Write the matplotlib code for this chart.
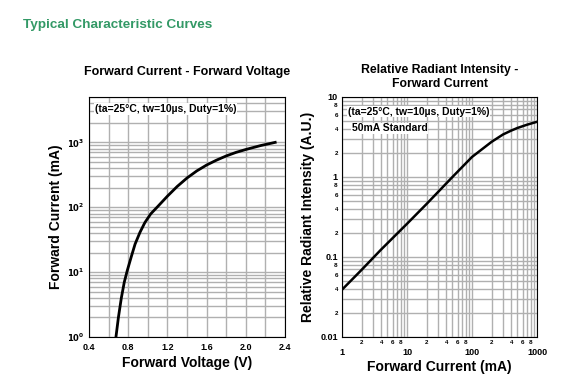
import matplotlib
matplotlib.use("Agg")
import matplotlib.pyplot as plt
import numpy as np
from matplotlib.ticker import FixedLocator, NullFormatter, LogLocator

# ---- data ----
vf_voltage = [0.675, 0.70, 0.73, 0.76, 0.79, 0.83, 0.87, 0.92, 0.97, 1.03, 1.10, 1.20,
              1.30, 1.40, 1.50, 1.60, 1.70, 1.80, 1.90, 2.00, 2.15, 2.30]
vf_current = [1, 2, 4, 7, 10.5, 17, 27, 41, 58, 79, 102, 148,
              209, 282, 363, 447, 531, 617, 700, 776, 891, 1000]

ri_current = [1, 2, 4, 10, 20, 50, 100, 200, 300, 400, 500, 700, 1000]
ri_intensity = [0.039, 0.069, 0.124, 0.26, 0.46, 1.0, 1.78, 2.75, 3.4, 3.8, 4.1, 4.5, 4.9]

left_xticks = [0.4, 0.8, 1.2, 1.6, 2.0, 2.4]
left_xlabels = ["0.4", "0.8", "1.2", "1.6", "2.0", "2.4"]
left_yticks = [1, 10, 100, 1000]
left_ylabels = ["$\\mathbf{10^0}$", "$\\mathbf{10^1}$", "$\\mathbf{10^2}$", "$\\mathbf{10^3}$"]

right_xmajor = [1, 10, 100, 1000]
right_xmajor_labels = ["1", "10", "100", "1000"]
right_xminor = [2, 4, 6, 8, 20, 40, 60, 80, 200, 400, 600, 800]
right_xminor_labels = ["2", "4", "6", "8", "2", "4", "6", "8", "2", "4", "6", "8"]
right_ymajor = [0.01, 0.1, 1, 10]
right_ymajor_labels = ["0.01", "0.1", "1", "10"]
right_yminor = [0.02, 0.04, 0.06, 0.08, 0.2, 0.4, 0.6, 0.8, 2, 4, 6, 8]
right_yminor_labels = ["2", "4", "6", "8", "2", "4", "6", "8", "2", "4", "6", "8"]

note = "(ta=25°C, tw=10µs, Duty=1%)"

plt.rcParams['font.family'] = ['Liberation Sans', 'DejaVu Sans']

fig = plt.figure(figsize=(5.87, 3.9), dpi=100)
W, H = 587, 390

def axrect(x0, y0, x1, y1):
    return [x0 / W, 1 - y1 / H, (x1 - x0) / W, (y1 - y0) / H]

fig.text(23 / W, 1 - 25 / H, "Typical Characteristic Curves", color="#339966",
         fontsize=9.7, fontweight="bold", va="center", ha="left")

gridc = "#b0b0b0"

# ---- left ----
ax1 = fig.add_axes(axrect(89, 97, 285, 337))
ax1.set_yscale("log")
ax1.set_xlim(0.4, 2.4)
ax1.set_ylim(1, 5000)
ax1.plot(vf_voltage, vf_current, color="black", lw=2, zorder=3)
ax1.set_xticks(left_xticks)
ax1.set_xticklabels(left_xlabels, fontsize=6.5, fontweight="bold")
ax1.xaxis.set_minor_locator(FixedLocator(np.arange(0.6, 2.4, 0.4)))
ax1.set_yticks(left_yticks)
ax1.set_yticklabels(left_ylabels, fontsize=6)
ax1.yaxis.set_minor_locator(LogLocator(base=10, subs=np.arange(2, 10)))
ax1.yaxis.set_minor_formatter(NullFormatter())
ax1.tick_params(which="both", length=0)
ax1.tick_params(axis="x", pad=4)
ax1.tick_params(axis="y", pad=3)
ax1.grid(True, which="both", color=gridc, lw=1)
ax1.set_axisbelow(True)
ax1.set_xlabel("Forward Voltage (V)", fontsize=10, fontweight="bold", labelpad=3)
ax1.set_ylabel("Forward Current (mA)", fontsize=10, fontweight="bold", labelpad=3)
ax1.set_title("Forward Current - Forward Voltage", fontsize=9, fontweight="bold", pad=16)
ax1.text(0.03, 0.97, note, transform=ax1.transAxes, fontsize=7.5, fontweight="bold",
         va="top", ha="left", bbox=dict(facecolor="white", edgecolor="none", pad=0.5), zorder=4)

# ---- right ----
ax2 = fig.add_axes(axrect(342, 97, 537, 337))
ax2.set_xscale("log")
ax2.set_yscale("log")
ax2.set_xlim(1, 1000)
ax2.set_ylim(0.01, 10)
ax2.plot(ri_current, ri_intensity, color="black", lw=1.8, zorder=3)
ax2.set_xticks(right_xmajor)
ax2.set_xticklabels(right_xmajor_labels, fontsize=6.5, fontweight="bold")
ax2.set_xticks(right_xminor, minor=True)
ax2.set_xticklabels(right_xminor_labels, minor=True, fontsize=4.5, fontweight="bold")
ax2.set_yticks(right_ymajor)
ax2.set_yticklabels(right_ymajor_labels, fontsize=6.5, fontweight="bold")
ax2.set_yticks(right_yminor, minor=True)
ax2.set_yticklabels(right_yminor_labels, minor=True, fontsize=4.5, fontweight="bold")
ax2.tick_params(which="both", length=0)
ax2.tick_params(axis="x", which="major", pad=8)
ax2.tick_params(axis="x", which="minor", pad=2)
ax2.tick_params(axis="y", which="both", pad=3)
for v in [3, 5, 7, 9, 30, 50, 70, 90, 300, 500, 700, 900]:
    ax2.axvline(v, color=gridc, lw=1, zorder=0)
for v in [0.03, 0.05, 0.07, 0.09, 0.3, 0.5, 0.7, 0.9, 3, 5, 7, 9]:
    ax2.axhline(v, color=gridc, lw=1, zorder=0)
ax2.grid(True, which="both", color=gridc, lw=1)
ax2.set_axisbelow(True)
ax2.set_xlabel("Forward Current (mA)", fontsize=10, fontweight="bold", labelpad=2)
ax2.set_ylabel("Relative Radiant Intensity (A.U.)", fontsize=10, fontweight="bold", labelpad=4)
ax2.set_title("Relative Radiant Intensity -\nForward Current", fontsize=8.8, fontweight="bold", pad=7,
              linespacing=1.25)
ax2.text(0.03, 0.96, note, transform=ax2.transAxes, fontsize=7.5, fontweight="bold",
         va="top", ha="left", bbox=dict(facecolor="white", edgecolor="none", pad=0.5), zorder=4)
ax2.text(0.05, 0.89, "50mA Standard", transform=ax2.transAxes, fontsize=7.5, fontweight="bold",
         va="top", ha="left", bbox=dict(facecolor="white", edgecolor="none", pad=0.5), zorder=4)

fig.savefig("out.png", dpi=100)
